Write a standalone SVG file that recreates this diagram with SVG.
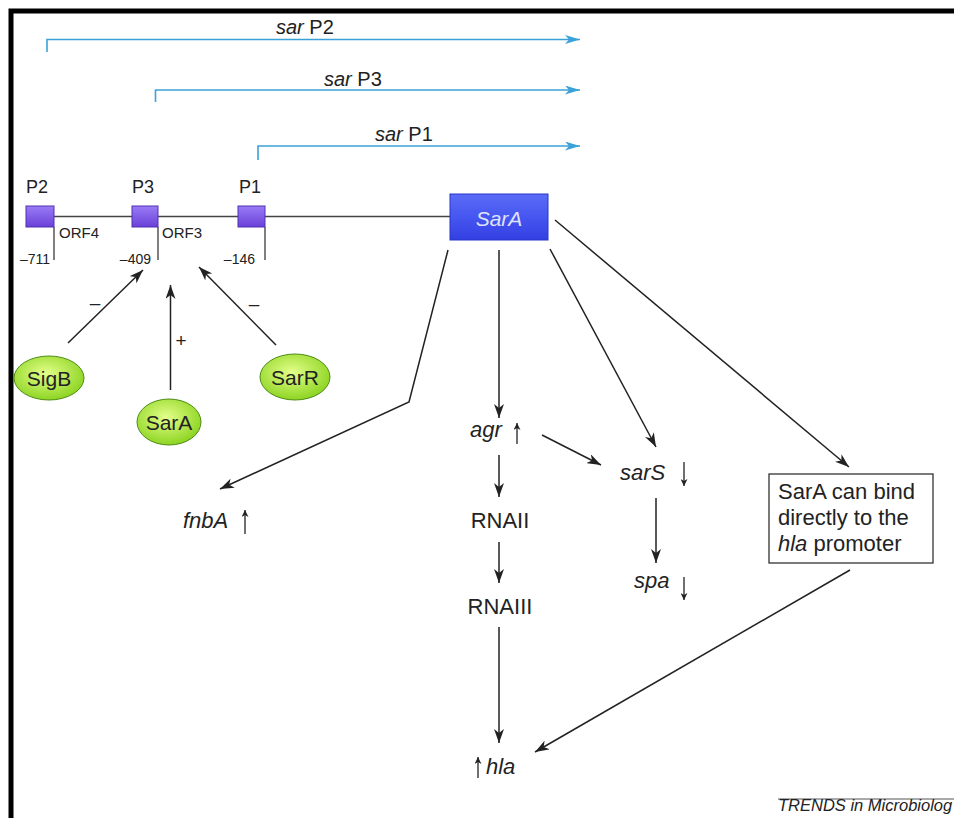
<svg xmlns="http://www.w3.org/2000/svg" width="954" height="818" viewBox="0 0 954 818">
<defs>
<style>
text{font-family:"Liberation Sans",Arial,sans-serif;fill:#222;}
.it{font-style:italic;}
.lbl{font-size:22px;}
.blue{fill:none;stroke:#3aa2d8;stroke-width:1.6;}
.con{fill:none;stroke:#222;stroke-width:1.5;}
.tick{fill:none;stroke:#555;stroke-width:1.5;}
.pbox{fill:url(#gp);stroke:#5030b0;stroke-width:1;}
.ell{fill:url(#gg);stroke:#4d8c12;stroke-width:1;}
.sm{fill:none;stroke:#222;stroke-width:1.3;}
</style>
<linearGradient id="gp" x1="0" y1="0" x2="0" y2="1"><stop offset="0" stop-color="#9a7cf6"/><stop offset="1" stop-color="#6a40d8"/></linearGradient>
<linearGradient id="gb" x1="0" y1="0" x2="0" y2="1"><stop offset="0" stop-color="#5a6cf6"/><stop offset="0.5" stop-color="#4656f0"/><stop offset="1" stop-color="#3340e2"/></linearGradient>
<radialGradient id="gg" cx="0.45" cy="0.4" r="0.65"><stop offset="0" stop-color="#e4ff8a"/><stop offset="1" stop-color="#86d11a"/></radialGradient>
<marker id="ah" viewBox="0 0 14 10" refX="14" refY="5" markerWidth="14" markerHeight="10" markerUnits="userSpaceOnUse" orient="auto"><path d="M0,0 L14,5 L0,10 L4,5 z" fill="#222"/></marker>
<marker id="bh" viewBox="0 0 15 9" refX="15" refY="4.5" markerWidth="15" markerHeight="9" markerUnits="userSpaceOnUse" orient="auto"><path d="M0,0 L15,4.5 L0,9 L4,4.5 z" fill="#3aa2d8"/></marker>
<marker id="sh" viewBox="0 0 7 7" refX="7" refY="3.5" markerWidth="7" markerHeight="7" markerUnits="userSpaceOnUse" orient="auto"><path d="M0,0 L7,3.5 L0,7 L2,3.5 z" fill="#222"/></marker>
</defs>
<rect x="0" y="0" width="954" height="818" fill="#fff"/>
<path d="M11,818 V11 H954" fill="none" stroke="#000" stroke-width="5"/>

<g id="connectors">
<path class="blue" d="M47,52 V39.5 H580" marker-end="url(#bh)"/>
<path class="blue" d="M155.5,102 V90 H580" marker-end="url(#bh)"/>
<path class="blue" d="M258,160 V146 H580" marker-end="url(#bh)"/>
<path d="M54,216.5 H450" fill="none" stroke="#444" stroke-width="1.5"/>
<path class="tick" d="M54,227 V260 M158,227 V260 M265,227 V260"/>
<path class="con" d="M68,343 L143,270" marker-end="url(#ah)"/>
<path class="con" d="M170.5,390 V285" marker-end="url(#ah)"/>
<path class="con" d="M276,345 L199,267" marker-end="url(#ah)"/>
<path class="con" d="M448,250 L409,402 L220,489" marker-end="url(#ah)"/>
<path class="con" d="M499,250 V418" marker-end="url(#ah)"/>
<path class="con" d="M550,249 L656,447" marker-end="url(#ah)"/>
<path class="con" d="M555,220 L849,467" marker-end="url(#ah)"/>
<path class="con" d="M850,570 L535,752" marker-end="url(#ah)"/>
<path class="con" d="M499,455 V497" marker-end="url(#ah)"/>
<path class="con" d="M499,542 V583" marker-end="url(#ah)"/>
<path class="con" d="M499,627 V743" marker-end="url(#ah)"/>
<path class="con" d="M542,435 L601,465" marker-end="url(#ah)"/>
<path class="con" d="M656,498 V563" marker-end="url(#ah)"/>
</g>

<g id="sarP2"><text x="276" y="34" font-size="20"><tspan class="it">sar</tspan> P2</text></g>
<g id="sarP3"><text x="324" y="86" font-size="20"><tspan class="it">sar</tspan> P3</text></g>
<g id="sarP1"><text x="375" y="141" font-size="20"><tspan class="it">sar</tspan> P1</text></g>

<g id="P2"><rect class="pbox" x="26" y="206" width="28" height="21"/><text x="26" y="193" font-size="18">P2</text></g>
<g id="P3"><rect class="pbox" x="132" y="206" width="26" height="21"/><text x="132" y="193" font-size="18">P3</text></g>
<g id="P1"><rect class="pbox" x="238" y="206" width="27" height="21"/><text x="239" y="193" font-size="18">P1</text></g>

<g id="orf"><text x="59" y="238" font-size="15">ORF4</text><text x="162" y="238" font-size="15">ORF3</text></g>
<g id="positions">
<text x="50" y="264" text-anchor="end" font-size="14">–711</text>
<text x="151" y="264" text-anchor="end" font-size="14">–409</text>
<text x="255" y="264" text-anchor="end" font-size="14">–146</text>
</g>
<g id="signs">
<text x="95" y="309" text-anchor="middle" font-size="19">–</text>
<text x="181" y="347" text-anchor="middle" font-size="19">+</text>
<text x="254" y="310" text-anchor="middle" font-size="19">–</text>
</g>

<g id="SigB"><ellipse class="ell" cx="49" cy="378" rx="35" ry="22"/><text x="49" y="386" text-anchor="middle" font-size="21">SigB</text></g>
<g id="SarA-reg"><ellipse class="ell" cx="169" cy="422" rx="32" ry="23"/><text x="169" y="430" text-anchor="middle" font-size="21">SarA</text></g>
<g id="SarR"><ellipse class="ell" cx="295" cy="377" rx="35" ry="23"/><text x="295" y="385" text-anchor="middle" font-size="21">SarR</text></g>

<g id="SarA"><rect x="450" y="194" width="98" height="46" fill="url(#gb)" stroke="#2a35c8" stroke-width="1"/><text x="499" y="226" text-anchor="middle" font-size="21" class="it" style="fill:#dfe2ff">SarA</text></g>

<g id="fnbA"><text x="183" y="528" class="it lbl">fnbA</text><path class="sm" d="M245,534 V510" marker-end="url(#sh)"/></g>
<g id="agr"><text x="470" y="437" class="it lbl">agr</text><path class="sm" d="M517,444 V423" marker-end="url(#sh)"/></g>
<g id="RNAII"><text x="500" y="528" text-anchor="middle" class="lbl">RNAII</text></g>
<g id="RNAIII"><text x="500" y="614" text-anchor="middle" class="lbl">RNAIII</text></g>
<g id="sarS"><text x="620" y="480" class="it lbl">sarS</text><path class="sm" d="M684,462 V486" marker-end="url(#sh)"/></g>
<g id="spa"><text x="634" y="588" class="it lbl">spa</text><path class="sm" d="M684,577 V600" marker-end="url(#sh)"/></g>
<g id="hla"><path class="sm" d="M478,778 V757" marker-end="url(#sh)"/><text x="486" y="774" class="it lbl">hla</text></g>

<g id="note"><rect x="769" y="474" width="164" height="89" fill="#fff" stroke="#333" stroke-width="1.3"/>
<text x="778" y="499" font-size="22">SarA can bind</text>
<text x="778" y="525" font-size="22">directly to the</text>
<text x="778" y="551" font-size="22"><tspan class="it">hla</tspan> promoter</text></g>

<g id="credit"><path d="M778,799 H954" stroke="#555" stroke-width="1"/><text x="778" y="811" class="it" font-size="16.5">TRENDS in Microbiolog</text></g>
</svg>
